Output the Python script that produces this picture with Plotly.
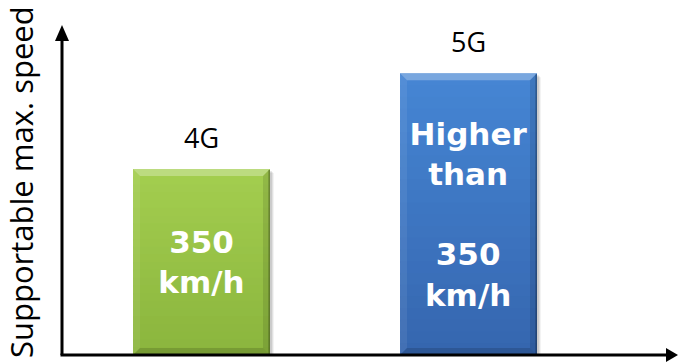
import plotly.graph_objects as go

# Supported maximum speed by generation
generations = ["4G", "5G"]
speed_values = [350, 530]          # relative bar heights (km/h scale)
bar_texts = ["350<br>km/h", "Higher<br>than<br><br>350<br>km/h"]
y_title = "Supportable max. speed"

top_colors = [(168, 210, 82), (72, 139, 218)]
bottom_colors = [(134, 176, 58), (50, 96, 168)]
mid_colors = ["rgba(152,194,70,0.25)", "rgba(62,120,196,0.25)"]

W, H = 679, 363
ML, MR, MT, MB = 62, 0, 25, 8
PW, PH = W - ML - MR, H - MT - MB
X_RANGE = [-0.5225, 1.7884]
Y_RANGE = [0, 621]
BAR_W = 0.513

fig = go.Figure()
fig.add_trace(go.Bar(
    x=list(range(len(generations))),
    y=speed_values,
    width=BAR_W,
    marker=dict(color=mid_colors, line=dict(width=0)),
    text=bar_texts,
    textposition="inside",
    insidetextanchor="middle",
    constraintext="none",
    textangle=0,
    insidetextfont=dict(family="DejaVu Sans", size=31, color="white", weight="bold"),
    hoverinfo="skip",
))

px_x = (X_RANGE[1] - X_RANGE[0]) / PW
px_y = (Y_RANGE[1] - Y_RANGE[0]) / PH


def path(pts):
    return "M " + " L ".join(f"{a},{b}" for a, b in pts) + " Z"


def mix(c0, c1, t):
    return "rgb(%d,%d,%d)" % tuple(round(a + (b - a) * t) for a, b in zip(c0, c1))


shapes = []
n_strips = 24
bev = 7
for i, v in enumerate(speed_values):
    l, r = i - BAR_W / 2, i + BAR_W / 2
    bx, by = bev * px_x, bev * px_y
    # soft drop shadow
    for k, a in enumerate([0.05, 0.07, 0.09]):
        off = 4 - k
        shapes.append(dict(type="path", xref="x", yref="y", layer="below",
                           path=path([(l + off * px_x, -off * px_y), (r + off * px_x, -off * px_y),
                                      (r + off * px_x, v - off * px_y), (l + off * px_x, v - off * px_y)]),
                           fillcolor=f"rgba(0,0,0,{a})", line=dict(width=0)))
    # vertical gradient body, each strip overlapping the one below
    for s in range(n_strips):
        y1 = v * (1 - s / n_strips)
        y0 = v * (1 - (s + 1) / n_strips)
        shapes.append(dict(type="rect", xref="x", yref="y", layer="below",
                           x0=l, x1=r, y0=max(0, y0 - 2 * px_y), y1=y1,
                           fillcolor=mix(top_colors[i], bottom_colors[i], (s + 0.5) / n_strips),
                           line=dict(width=0)))
    # bevelled edges
    shapes.append(dict(type="path", xref="x", yref="y", layer="above",
                       path=path([(l, v), (r, v), (r - bx, v - by), (l + bx, v - by)]),
                       fillcolor="rgba(255,255,255,0.28)", line=dict(width=0)))
    shapes.append(dict(type="path", xref="x", yref="y", layer="above",
                       path=path([(l, v), (l + bx, v - by), (l + bx, by), (l, 0)]),
                       fillcolor="rgba(255,255,255,0.07)", line=dict(width=0)))
    shapes.append(dict(type="path", xref="x", yref="y", layer="above",
                       path=path([(r, v), (r - bx, v - by), (r - bx, by), (r, 0)]),
                       fillcolor="rgba(0,0,0,0.10)", line=dict(width=0)))
    shapes.append(dict(type="path", xref="x", yref="y", layer="above",
                       path=path([(l, 0), (r, 0), (r - bx, by), (l + bx, by)]),
                       fillcolor="rgba(0,0,0,0.14)", line=dict(width=0)))
    shapes.append(dict(type="line", xref="x", yref="y", layer="above",
                       x0=r - 0.8 * px_x, x1=r - 0.8 * px_x, y0=0, y1=v - px_y,
                       line=dict(color="rgba(0,0,0,0.28)", width=1.5)))

# Axis lines with arrow heads (paper units)
ppx, ppy = 1 / PW, 1 / PH
shapes.append(dict(type="line", xref="paper", yref="paper", layer="above",
                   x0=0, y0=0, x1=0, y1=1 - 14 * ppy, line=dict(color="black", width=3)))
shapes.append(dict(type="path", xref="paper", yref="paper", layer="above",
                   path=f"M {-7*ppx},{1-16*ppy} L {7*ppx},{1-16*ppy} L 0,1 Z",
                   fillcolor="black", line=dict(width=0)))
shapes.append(dict(type="line", xref="paper", yref="paper", layer="above",
                   x0=-1.5 * ppx, y0=0, x1=(678 - ML - 11) / PW, y1=0,
                   line=dict(color="black", width=3)))
tip = (678 - ML) / PW
shapes.append(dict(type="path", xref="paper", yref="paper", layer="above",
                   path=f"M {tip-12*ppx},{7*ppy} L {tip-12*ppx},{-7*ppy} L {tip},0 Z",
                   fillcolor="black", line=dict(width=0)))

annotations = []
for i, (g, v) in enumerate(zip(generations, speed_values)):
    annotations.append(dict(x=i, y=v, xref="x", yref="y", text=g, showarrow=False,
                            yanchor="bottom", yshift=11,
                            font=dict(family="Open Sans", size=27, color="black")))
annotations.append(dict(x=(21 - ML) / PW, y=(355 - 182) / PH, xref="paper", yref="paper",
                        text=y_title, textangle=-90, showarrow=False,
                        xanchor="center", yanchor="middle",
                        font=dict(family="Open Sans", size=31, color="black")))

fig.update_layout(
    width=W, height=H,
    margin=dict(l=ML, r=MR, t=MT, b=MB),
    paper_bgcolor="white", plot_bgcolor="white",
    showlegend=False,
    xaxis=dict(range=X_RANGE, visible=False, fixedrange=True),
    yaxis=dict(range=Y_RANGE, visible=False, fixedrange=True),
    shapes=shapes,
    annotations=annotations,
)

fig.write_html("out.html", config={"displayModeBar": False})
